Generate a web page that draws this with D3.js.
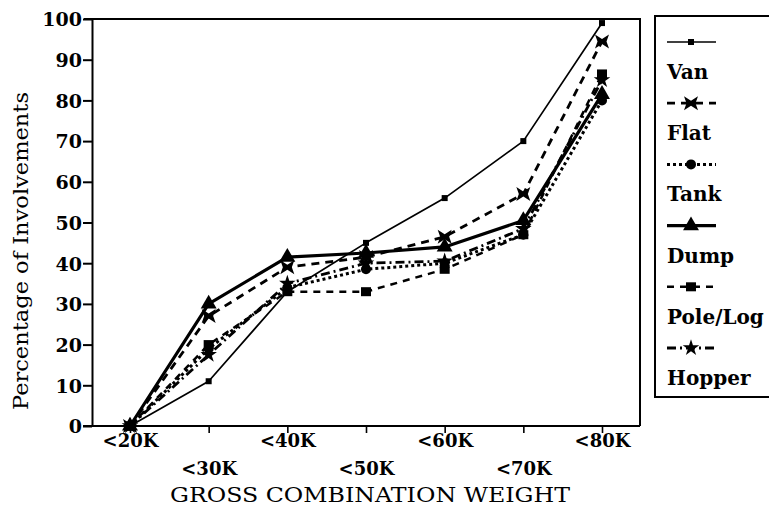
<!DOCTYPE html>
<html>
<head>
<meta charset="utf-8">
<script src="https://cdn.jsdelivr.net/npm/d3@7"></script>
<style>
  html, body { margin: 0; padding: 0; background: #fff; }
  svg { display: block; }
  svg text { font-family: "DejaVu Serif", "Liberation Serif", serif; fill: #000; }
</style>
</head>
<body>
<svg id="chart" width="769" height="512"></svg>
<script>
// Weight classes on the x axis
const categories = ["<20K", "<30K", "<40K", "<50K", "<60K", "<70K", "<80K"];
const yTicks = [0, 10, 20, 30, 40, 50, 60, 70, 80, 90, 100];

// Cumulative percentage of involvements by trailer type
const van     = [0, 11, 33, 45, 56, 70, 99];
const flat    = [0, 27, 39, 41.5, 46.5, 57, 94.5];
const tank    = [0, 19, 34, 38.5, 40, 47, 80];
const dump    = [0, 30, 41.5, 42.5, 44, 50.5, 81.5];
const poleLog = [0, 20, 33, 33, 38.5, 47, 86.5];
const hopper  = [0, 17.5, 35, 40, 40.5, 48.5, 85];

const series = [
  { name: "Van",      values: van,     width: 1.7, dash: null,      marker: "smallSquare" },
  { name: "Flat",     values: flat,    width: 2.8, dash: "8,6",     marker: "bowtie" },
  { name: "Tank",     values: tank,    width: 3.0, dash: "3,3",     marker: "circle" },
  { name: "Dump",     values: dump,    width: 3.2, dash: null,      marker: "triangle" },
  { name: "Pole/Log", values: poleLog, width: 2.5, dash: "7,6",     marker: "square" },
  { name: "Hopper",   values: hopper,  width: 2.8, dash: "9,4,2,4", marker: "star" }
];

const serif = "DejaVu Serif, Liberation Serif, serif";
const svg = d3.select("#chart");
const frame = { left: 92, right: 640, top: 19, bottom: 426 };

const x = d3.scalePoint().domain(categories).range([130, 602]);
const y = d3.scaleLinear().domain([0, 100]).range([frame.bottom, frame.top]);

// Plot frame (top and right edges)
svg.append("path")
  .attr("d", `M${frame.left - 8},${frame.top}H${frame.right}V${frame.bottom}`)
  .attr("fill", "none").attr("stroke", "#000").attr("stroke-width", 2);

// Y axis
const yAxis = svg.append("g")
  .attr("transform", `translate(${frame.left},0)`)
  .call(d3.axisLeft(y).tickValues(yTicks).tickSize(9).tickPadding(1).tickSizeOuter(0));
yAxis.select(".domain").attr("stroke-width", 2);
yAxis.selectAll(".tick line").attr("stroke-width", 2);
yAxis.selectAll(".tick text")
  .style("font-family", serif)
  .style("font-size", "19px").style("font-weight", "bold")
  .attr("dy", "0.36em");

// X axis, labels staggered on two rows
const xAxis = svg.append("g")
  .attr("transform", `translate(0,${frame.bottom})`)
  .call(d3.axisBottom(x).tickSize(7).tickSizeOuter(0));
xAxis.select(".domain").attr("d", `M${frame.left - 9},0H${frame.right}`).attr("stroke-width", 2);
xAxis.selectAll(".tick line").attr("stroke-width", 1.6);
xAxis.selectAll(".tick text")
  .style("font-family", serif)
  .style("font-size", "18px").style("font-weight", "bold")
  .attr("y", (d, i) => i % 2 === 0 ? 8 : 36)
  .attr("dy", "0.71em");

// Axis titles
svg.append("text")
  .attr("transform", `translate(28,251) rotate(-90)`)
  .attr("text-anchor", "middle")
  .attr("textLength", 318).attr("lengthAdjust", "spacingAndGlyphs")
  .style("font-family", serif)
  .style("font-size", "21px")
  .text("Percentage of Involvements");

svg.append("text")
  .attr("x", 370).attr("y", 502)
  .attr("text-anchor", "middle")
  .attr("textLength", 400).attr("lengthAdjust", "spacingAndGlyphs")
  .style("font-family", serif)
  .style("font-size", "20px")
  .text("GROSS COMBINATION WEIGHT");

// Marker shapes
function drawMarker(g, type, cx, cy) {
  switch (type) {
    case "smallSquare":
      g.append("rect").attr("x", cx - 3).attr("y", cy - 3).attr("width", 6).attr("height", 6);
      break;
    case "square":
      g.append("rect").attr("x", cx - 5).attr("y", cy - 4.5).attr("width", 10).attr("height", 9);
      break;
    case "circle":
      g.append("circle").attr("cx", cx).attr("cy", cy).attr("r", 5);
      break;
    case "triangle":
      g.append("path").attr("transform", `translate(${cx},${cy})`)
        .attr("d", d3.symbol(d3.symbolTriangle, 110)());
      break;
    case "bowtie":
      g.append("path").attr("transform", `translate(${cx},${cy})`)
        .attr("d", "M-7,-7L0,-2.5L7,-7L4.5,0L7,7L0,2.5L-7,7L-4.5,0Z");
      break;
    case "star":
      g.append("path").attr("transform", `translate(${cx},${cy})`)
        .attr("d", d3.symbol(d3.symbolStar, 85)());
      break;
  }
}

// Series lines and markers
const line = d3.line()
  .x((d, i) => x(categories[i]))
  .y(d => y(d));

series.forEach(s => {
  const g = svg.append("g").attr("fill", "#000");
  g.append("path")
    .attr("d", line(s.values))
    .attr("fill", "none")
    .attr("stroke", "#000")
    .attr("stroke-width", s.width)
    .attr("stroke-dasharray", s.dash)
    .attr("stroke-linejoin", "round");
  s.values.forEach((v, i) => drawMarker(g, s.marker, x(categories[i]), y(v)));
});

// Legend
const legend = svg.append("g");
legend.append("rect")
  .attr("x", 655).attr("y", 16).attr("width", 130).attr("height", 381)
  .attr("fill", "none").attr("stroke", "#000").attr("stroke-width", 2);

series.forEach((s, i) => {
  const sy = 42 + i * 61.2;
  const g = legend.append("g").attr("fill", "#000");
  g.append("line")
    .attr("x1", 667).attr("x2", 716).attr("y1", sy).attr("y2", sy)
    .attr("stroke", "#000")
    .attr("stroke-width", s.width)
    .attr("stroke-dasharray", s.dash);
  drawMarker(g, s.marker, 691, sy);
  legend.append("text")
    .attr("x", 667).attr("y", sy + 37)
    .style("font-family", serif)
    .style("font-size", "20px").style("font-weight", "bold")
    .text(s.name);
});
</script>
</body>
</html>
